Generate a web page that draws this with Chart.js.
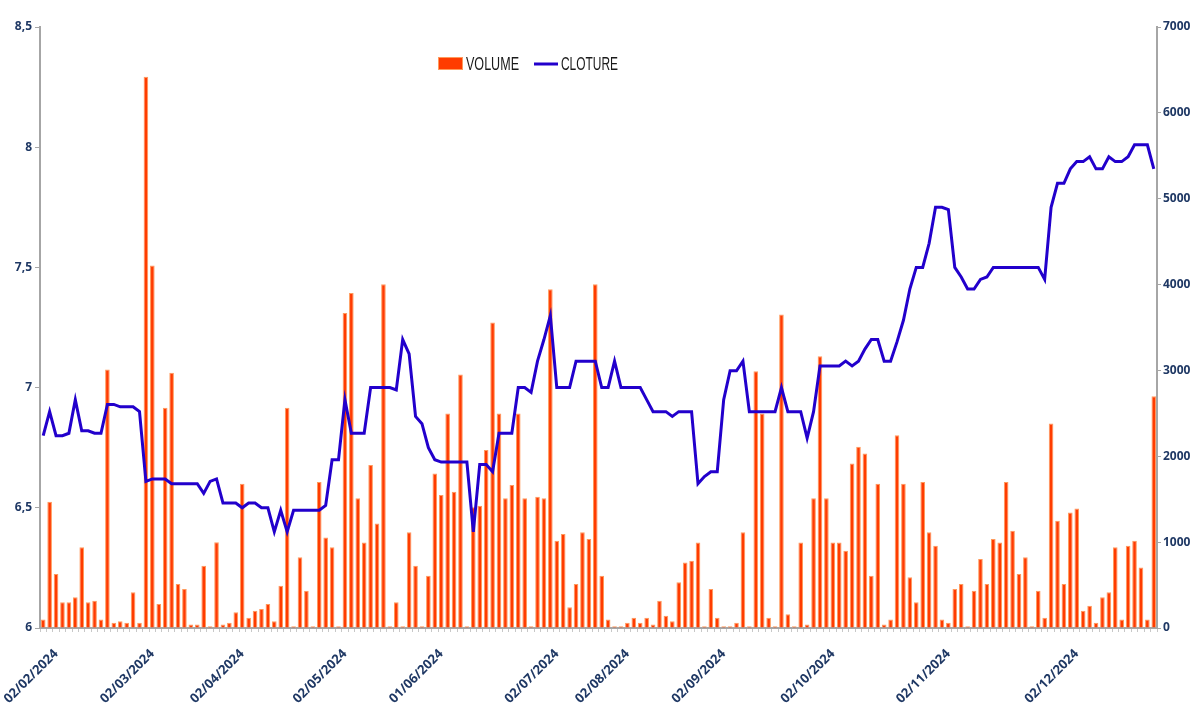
<!DOCTYPE html>
<html>
<head>
<meta charset="utf-8">
<title>Volume / Cloture 2024</title>
<script src="https://cdn.jsdelivr.net/npm/chart.js@4.4.1/dist/chart.umd.min.js"></script>
<style>
  html, body { margin: 0; padding: 0; background: #fff; }
  .chart-wrap { width: 1190px; height: 720px; }
</style>
</head>
<body>
<div class="chart-wrap"><canvas id="myChart" width="1190" height="720"></canvas></div>
<script>
// daily volumes (right axis)
const volume = [
  100, 1470, 630, 300, 300, 357, 940, 300, 318, 100, 3012, 62, 80, 62, 415, 62, 6420, 4222, 280, 2565, 2973, 512, 454, 40, 40,
  725, 20, 1000, 40, 62, 182, 1680, 120, 202, 221, 280, 80, 493, 2565, 20, 823, 435, 20, 1700, 1055, 940, 20, 3670, 3903, 1510,
  997, 1898, 1218, 4004, 20, 300, 20, 1114, 725, 20, 609, 1800, 1548, 2499, 1587, 2953, 20, 1405, 1424, 2072, 3558, 2499, 1510, 1665, 2499,
  1510, 20, 1529, 1510, 3946, 1017, 1094, 241, 512, 1114, 1036, 4004, 609, 100, 20, 20, 62, 120, 62, 120, 40, 318, 144, 80, 532,
  764, 784, 997, 20, 454, 120, 20, 20, 62, 1114, 20, 2991, 2499, 120, 20, 3651, 159, 20, 997, 40, 1510, 3166, 1510, 997, 997,
  900, 1917, 2111, 2033, 609, 1680, 40, 100, 2246, 1680, 590, 300, 1700, 1114, 958, 100, 62, 454, 512, 20, 435, 803, 512, 1036, 997,
  1700, 1133, 630, 823, 20, 435, 120, 2382, 1249, 512, 1346, 1393, 202, 260, 62, 357, 415, 940, 100, 958, 1017, 706, 100, 2700
];

// closing price (left axis)
const cloture = [
  6.80, 6.90, 6.80, 6.80, 6.81, 6.95, 6.82, 6.82, 6.81, 6.81, 6.93, 6.93, 6.92, 6.92, 6.92, 6.90, 6.61, 6.62, 6.62, 6.62, 6.60, 6.60, 6.60, 6.60, 6.60,
  6.56, 6.61, 6.62, 6.52, 6.52, 6.52, 6.50, 6.52, 6.52, 6.50, 6.50, 6.40, 6.49, 6.40, 6.49, 6.49, 6.49, 6.49, 6.49, 6.51, 6.70, 6.70, 6.95, 6.81, 6.81,
  6.81, 7.00, 7.00, 7.00, 7.00, 6.99, 7.20, 7.14, 6.88, 6.85, 6.75, 6.70, 6.69, 6.69, 6.69, 6.69, 6.69, 6.40, 6.68, 6.68, 6.65, 6.81, 6.81, 6.81, 7.00,
  7.00, 6.98, 7.11, 7.20, 7.30, 7.00, 7.00, 7.00, 7.11, 7.11, 7.11, 7.11, 7.00, 7.00, 7.11, 7.00, 7.00, 7.00, 7.00, 6.95, 6.90, 6.90, 6.90, 6.88, 6.90,
  6.90, 6.90, 6.60, 6.63, 6.65, 6.65, 6.95, 7.07, 7.07, 7.11, 6.90, 6.90, 6.90, 6.90, 6.90, 7.00, 6.90, 6.90, 6.90, 6.79, 6.90, 7.09, 7.09, 7.09, 7.09,
  7.11, 7.09, 7.11, 7.16, 7.20, 7.20, 7.11, 7.11, 7.19, 7.28, 7.41, 7.50, 7.50, 7.60, 7.75, 7.75, 7.74, 7.50, 7.46, 7.41, 7.41, 7.45, 7.46, 7.50, 7.50,
  7.50, 7.50, 7.50, 7.50, 7.50, 7.50, 7.45, 7.75, 7.85, 7.85, 7.91, 7.94, 7.94, 7.96, 7.91, 7.91, 7.96, 7.94, 7.94, 7.96, 8.01, 8.01, 8.01, 7.91
];

// dates shown on the x axis and the session they sit on
const tickLabels = ['02/02/2024', '02/03/2024', '02/04/2024', '02/05/2024', '01/06/2024', '02/07/2024',
                    '02/08/2024', '02/09/2024', '02/10/2024', '02/11/2024', '02/12/2024'];
const tickIndex = [2, 17, 31, 47, 62, 80, 91, 106, 123, 141, 161];

// one category per session, only the month starts get a text
const categories = volume.map(() => '');
tickIndex.forEach((idx, k) => { categories[idx] = tickLabels[k]; });

const navy = '#1F3864';
const axisGrey = '#A6A6A6';
const barColor = '#FF3C00';
const barEdge = '#FF9A5C';
const lineColor = '#2200CC';
const yFont = { family: "'Open Sans', sans-serif", weight: 'bold', size: 12 };
const xFont = { family: "'Open Sans', sans-serif", weight: 'bold', size: 13 };

// squeeze a legend word into a given width (narrow face)
function narrowText(ctx, text, x, y, width) {
  const w = ctx.measureText(text).width;
  ctx.save();
  ctx.translate(x, y);
  ctx.scale(width / w, 1);
  ctx.fillText(text, 0, 0);
  ctx.restore();
}

// legend drawn inside the plot
const insideLegend = {
  id: 'insideLegend',
  afterDraw(chart) {
    const ctx = chart.ctx;
    const vol = chart.data.datasets[1];
    const clo = chart.data.datasets[0];
    const y = 64;
    ctx.save();
    ctx.font = "18px 'Liberation Sans', sans-serif";
    ctx.textBaseline = 'middle';
    ctx.fillStyle = vol.backgroundColor;
    ctx.fillRect(438, y - 7, 25, 13);
    ctx.strokeStyle = vol.borderColor;
    ctx.lineWidth = 1;
    ctx.strokeRect(438.5, y - 6.5, 24, 12);
    ctx.fillStyle = '#1a1a1a';
    narrowText(ctx, vol.label, 466, y + 1, 53);
    ctx.strokeStyle = clo.borderColor;
    ctx.lineWidth = 3;
    ctx.beginPath();
    ctx.moveTo(534, y);
    ctx.lineTo(558, y);
    ctx.stroke();
    narrowText(ctx, clo.label, 561, y + 1, 57);
    ctx.restore();
  }
};

const ctx = document.getElementById('myChart').getContext('2d');

new Chart(ctx, {
  type: 'bar',
  data: {
    labels: categories,
    datasets: [
      {
        type: 'line',
        label: 'CLOTURE',
        data: cloture,
        yAxisID: 'y',
        borderColor: lineColor,
        backgroundColor: lineColor,
        borderWidth: 3,
        pointRadius: 0,
        tension: 0,
        order: 0
      },
      {
        type: 'bar',
        label: 'VOLUME',
        data: volume,
        yAxisID: 'yVol',
        backgroundColor: barColor,
        borderColor: barEdge,
        borderWidth: 1,
        barPercentage: 0.72,
        categoryPercentage: 1,
        order: 1
      }
    ]
  },
  options: {
    responsive: false,
    animation: false,
    devicePixelRatio: 1,
    layout: { padding: { top: 27, left: 0, right: 0, bottom: 0 } },
    plugins: {
      legend: { display: false },
      tooltip: { enabled: false }
    },
    scales: {
      x: {
        offset: true,
        grid: { drawOnChartArea: false, drawTicks: true, tickLength: 4, color: '#C8C8C8' },
        border: { color: axisGrey, width: 2 },
        ticks: {
          autoSkip: false,
          maxRotation: 45,
          minRotation: 45,
          padding: 14,
          color: navy,
          font: xFont
        },
        afterFit: (s) => { s.height = 92; }
      },
      y: {
        position: 'left',
        min: 6,
        max: 8.5,
        grid: { drawOnChartArea: false, drawTicks: true, tickLength: 5, color: axisGrey },
        border: { color: axisGrey, width: 2 },
        ticks: {
          stepSize: 0.5,
          padding: 3,
          color: navy,
          font: yFont,
          callback: (v) => String(v).replace('.', ',')
        },
        afterFit: (s) => { s.width = 40; }
      },
      yVol: {
        position: 'right',
        min: 0,
        max: 7000,
        grid: { drawOnChartArea: false, drawTicks: true, tickLength: 4, color: axisGrey },
        border: { color: axisGrey, width: 2 },
        ticks: {
          stepSize: 1000,
          padding: 2,
          color: navy,
          font: yFont,
          callback: (v) => String(v)
        },
        afterFit: (s) => { s.width = 33; }
      }
    }
  },
  plugins: [insideLegend]
});
</script>
</body>
</html>
